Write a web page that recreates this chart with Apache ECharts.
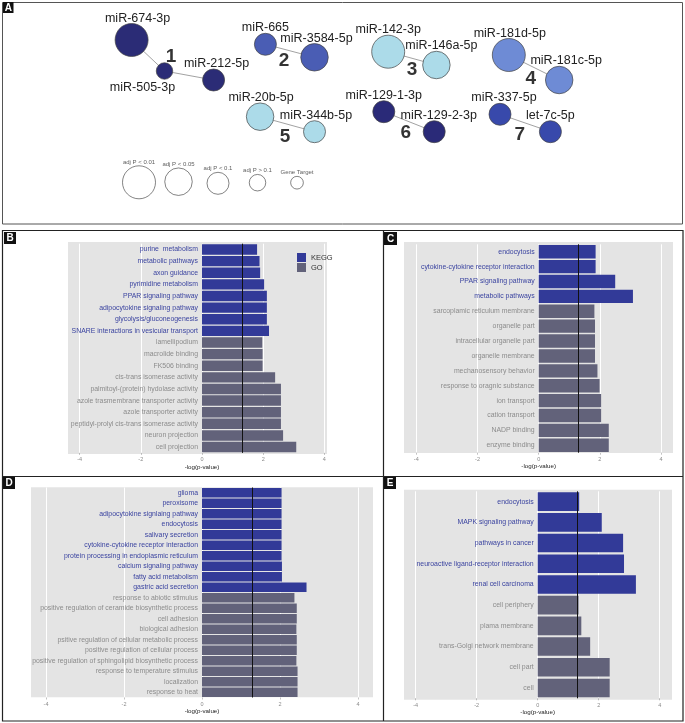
<!DOCTYPE html>
<html><head><meta charset="utf-8">
<script src="https://cdn.jsdelivr.net/npm/echarts@6/dist/echarts.min.js"></script>
<style>html,body{margin:0;padding:0;background:#fff}#c{width:685px;height:723px}</style>
</head><body><div id="c"></div>
<script>
// ---------- Panel A: network ----------
const nodeNames = ['miR-674-3p','miR-505-3p','miR-212-5p','miR-665','miR-3584-5p','miR-142-3p','miR-146a-5p','miR-181d-5p','miR-181c-5p','miR-20b-5p','miR-344b-5p','miR-129-1-3p','miR-129-2-3p','miR-337-5p','let-7c-5p'];
const nodeX = [131.6,164.5,213.6,265.4,314.5,388.2,436.4,508.8,559.2,260.1,314.5,383.8,434.2,500,550.4];
const nodeY = [40,71,80,44.3,57.3,51.7,65,55,80,116.7,131.7,111.7,131.7,114.3,131.7];
const nodeCluster = [1,1,1,2,2,3,3,4,4,5,5,6,6,7,7];
const nodeClass = [0,3,2,2,1,0,1,0,1,1,2,2,2,2,2];
const edges = [[0,1],[1,2],[3,4],[5,6],[7,8],[9,10],[11,12],[13,14]];
const clusterIds = [1,2,3,4,5,6,7];
const clusterX = [171,284,412,530.7,285,405.7,519.7];
const clusterY = [57,61,70,79,137,133,135];
const sigLabels = ['adj P < 0.01','adj P < 0.05','adj P < 0.1','adj P > 0.1','Gene Target'];
const sigX = [139,178.5,218,257.5,297];
const sigY = [182.3,181.7,183.3,182.7,182.7];

// ---------- Panels B-E: enrichment bars ----------
const bCats = ['purine  metabolism','metabolic pathways','axon guidance','pyrimidine metabolism','PPAR signaling pathway','adipocytokine signaling pathway','glycolysis/gluconeogenesis','SNARE interactions in vesicular transport','lamellipodium','macrolide binding','FK506 binding','cis-trans isomerase activity','palmitoyl-(protein) hydolase activity','azole trasmembrane transporter activity','azole transporter activity','peptidyl-prolyl cis-trans isomerase activity','neuron projection','cell projection'];
const bVals = [1.80,1.88,1.90,2.03,2.12,2.12,2.12,2.19,1.97,1.98,1.98,2.39,2.58,2.58,2.58,2.58,2.65,3.08];
const bTypes = ['K','K','K','K','K','K','K','K','G','G','G','G','G','G','G','G','G','G'];

const cCats = ['endocytosis','cytokine-cytokine receptor interaction','PPAR signaling pathway','metabolic pathways','sarcoplamic reticulum membrane','organelle part','intracellular organelle part','organelle membrane','mechanosensory behavior','response to oragnic substance','ion transport','cation transport','NADP binding','enzyme binding'];
const cVals = [1.86,1.86,2.50,3.08,1.82,1.84,1.84,1.84,1.92,1.99,2.04,2.04,2.29,2.29];
const cTypes = ['K','K','K','K','G','G','G','G','G','G','G','G','G','G'];

const dCats = ['glioma','peroxisome','adipocytokine signlaing pathway','endocytosis','salivary secretion','cytokine-cytokine receptor interaction','protein processing in endoplasmic reticulum','calcium signaling pathway','fatty acid metabolism','gastric acid secretion','response to abiotic stimulus','positive regulation of ceramide biosynthetic process','cell adhesion','biological adhesion','psitive regulation of cellular metabolic process','positive regulation of cellular process','positive regulation of sphingolipid biosynthetic process','response to temperature stimulus','localization','response to heat'];
const dVals = [2.04,2.04,2.04,2.04,2.04,2.04,2.04,2.05,2.05,2.68,2.37,2.43,2.43,2.42,2.43,2.43,2.42,2.45,2.45,2.45];
const dTypes = ['K','K','K','K','K','K','K','K','K','K','G','G','G','G','G','G','G','G','G','G'];

const eCats = ['endocytosis','MAPK signaling pathway','pathways in cancer','neuroactive ligand-receptor interaction','renal cell carcinoma','cell periphery','plama membrane','trans-Golgi network membrane','cell part','cell'];
const eVals = [1.36,2.10,2.80,2.83,3.22,1.34,1.43,1.72,2.36,2.36];
const eTypes = ['K','K','K','K','K','G','G','G','G','G'];

const threshold = 1.3;
const xTicksMin = -4, xTicksMax = 4, xTickStep = 2;
const xTitle = '-log(p-value)';

// ---------- styles / layout ----------
const KC = '#323a98', GC = '#62627a', KL = '#3b44a0', GL = '#8c8c8c', BG = '#e4e4e4';
const FONT = 'Liberation Sans, Arial, sans-serif';
const classSize = [33, 27.5, 22, 16.5, 12.7];
const clusterColor = {1:'#2b2c76',2:'#4a5db4',3:'#acdbe9',4:'#6e8bd5',5:'#acdbe9',6:'#2a2a78',7:'#3849ab'};

const panels = [
  {cats:bCats, vals:bVals, types:bTypes, grid:{left:79.6, top:243.7, width:244.8, height:209.2}, bg:[68,242,327,454], fs:6.9},
  {cats:cCats, vals:cVals, types:cTypes, grid:{left:416.3, top:244.3, width:244.8, height:208.4}, bg:[404,242,673,453], fs:6.9},
  {cats:dCats, vals:dVals, types:dTypes, grid:{left:46, top:487.5, width:312, height:210}, bg:[31,487.3,373,697.3], fs:6.9},
  {cats:eCats, vals:eVals, types:eTypes, grid:{left:415.7, top:491.3, width:244, height:207}, bg:[404,489.7,672,699.7], fs:6.9}
];

const grids = [], xAxes = [], yAxes = [], series = [], graphics = [];
panels.forEach((p, i) => {
  grids.push(Object.assign({outerBoundsMode:'none', containLabel:false}, p.grid));
  xAxes.push({
    gridIndex:i, type:'value', min:xTicksMin, max:xTicksMax, interval:xTickStep,
    axisLine:{show:false, onZero:false},
    axisTick:{show:true, length:2, lineStyle:{color:'#999', width:0.6}},
    axisLabel:{fontSize:5.5, color:'#8a8a8a', margin:4},
    splitLine:{show:true, lineStyle:{color:'#ffffff', width:1}},
    name:xTitle, nameLocation:'middle', nameGap:9,
    nameTextStyle:{fontSize:6.2, color:'#222'}
  });
  const typeOf = {};
  p.cats.forEach((c, j) => typeOf[c] = p.types[j]);
  // place the category axis at x = 0 of the value axis (zero is at the centre of -4..4)
  const zeroShift = p.grid.width * (0 - xTicksMin) / (xTicksMax - xTicksMin);
  yAxes.push({
    gridIndex:i, type:'category', data:p.cats, inverse:true, offset:-zeroShift,
    axisLine:{show:false, onZero:false}, axisTick:{show:false}, splitLine:{show:false},
    axisLabel:{interval:0, margin:4, fontSize:p.fs,
      formatter:(v) => (typeOf[v] === 'K' ? '{k|' : '{g|') + v + '}',
      rich:{k:{color:KL, fontSize:p.fs, fontFamily:FONT}, g:{color:GL, fontSize:p.fs, fontFamily:FONT}}}
  });
  series.push({
    type:'bar', name:'KEGG', xAxisIndex:i, yAxisIndex:i, barGap:'-100%', barCategoryGap:'10%', z:3,
    data:p.vals.map((v, j) => p.types[j] === 'K' ? v : '-'),
    itemStyle:{color:KC}, emphasis:{disabled:true}, silent:true,
    markLine:{silent:true, symbol:'none', label:{show:false}, animation:false,
      lineStyle:{color:'#111', width:1, type:'solid'}, data:[{xAxis:threshold}]}
  });
  series.push({
    type:'bar', name:'GO', xAxisIndex:i, yAxisIndex:i, barGap:'-100%', barCategoryGap:'10%', z:3,
    data:p.vals.map((v, j) => p.types[j] === 'G' ? v : '-'),
    itemStyle:{color:GC}, emphasis:{disabled:true}, silent:true
  });
  const [x0, y0, x1, y1] = p.bg;
  graphics.push({type:'rect', z:-1, silent:true, shape:{x:x0, y:y0, width:x1 - x0, height:y1 - y0}, style:{fill:BG}});
});

// Panel A coordinate system
grids.push({left:0, top:0, width:685, height:723, outerBoundsMode:'none', containLabel:false});
xAxes.push({gridIndex:4, type:'value', min:0, max:685, show:false});
yAxes.push({gridIndex:4, type:'value', min:0, max:723, inverse:true, show:false});

const labelOffset = {0:[6,0], 1:[-22,0], 2:[3,0], 4:[2,0], 6:[5,0], 7:[1,0], 8:[7,0], 9:[1,0], 10:[1.5,0], 12:[4.5,0], 13:[4,0]};
series.push({
  type:'graph', coordinateSystem:'cartesian2d', xAxisIndex:4, yAxisIndex:4, layout:'none', silent:true,
  symbol:'circle', z:4,
  data:nodeNames.map((n, k) => ({
    name:n, value:[nodeX[k], nodeY[k]], symbolSize:classSize[nodeClass[k]],
    itemStyle:{color:clusterColor[nodeCluster[k]], borderColor:'#444', borderWidth:0.7},
    label:{show:true, position:k === 1 ? 'bottom' : 'top', distance:k === 1 ? 1 : -1.5,
      offset:labelOffset[k] || [0,0], fontSize:12.5, color:'#222', fontFamily:FONT}
  })),
  links:edges.map(e => ({source:e[0], target:e[1]})),
  lineStyle:{color:'#8a8a8a', width:0.8, opacity:1, curveness:0},
  emphasis:{disabled:true}
});
series.push({
  type:'scatter', xAxisIndex:4, yAxisIndex:4, silent:true, symbolSize:0, z:5,
  data:clusterIds.map((c, k) => [clusterX[k], clusterY[k], c]),
  label:{show:true, position:'inside', formatter:(d) => String(d.value[2]),
    fontSize:19, fontWeight:'bold', color:'#000', fontFamily:FONT}
});
series.push({
  type:'scatter', xAxisIndex:4, yAxisIndex:4, silent:true, z:4,
  data:sigLabels.map((s, k) => [sigX[k], sigY[k], k]),
  symbolSize:(v) => classSize[v[2]],
  itemStyle:{color:'#fff', borderColor:'#222', borderWidth:0.7},
  label:{show:true, position:'top', distance:0.5, formatter:(d) => sigLabels[d.value[2]],
    fontSize:6, color:'#333', fontFamily:FONT}
});

// Frames and panel letters
graphics.push({type:'rect', z:10, silent:true, shape:{x:2.5, y:2.5, width:680, height:221.5}, style:{fill:'none', stroke:'#555', lineWidth:1}});
graphics.push({type:'rect', z:10, silent:true, shape:{x:2.5, y:230.5, width:680.5, height:490.5}, style:{fill:'none', stroke:'#222', lineWidth:1.2}});
graphics.push({type:'line', z:10, silent:true, shape:{x1:383.5, y1:230.5, x2:383.5, y2:721}, style:{stroke:'#222', lineWidth:1.2}});
graphics.push({type:'line', z:10, silent:true, shape:{x1:2.5, y1:476.5, x2:683, y2:476.5}, style:{stroke:'#222', lineWidth:1.2}});
[['A',3,2,10.5,11],['B',4,232,12,12],['C',384,232,13,13],['D',3,477,12,12],['E',384,477,12,12]].forEach(([t,x,y,w,h]) => {
  graphics.push({type:'rect', z:11, silent:true, shape:{x:x, y:y, width:w, height:h}, style:{fill:'#111'}});
  graphics.push({type:'text', z:12, silent:true, x:x + w / 2, y:y + h / 2 + 0.5,
    style:{text:t, fill:'#fff', font:'bold 10px ' + FONT, align:'center', verticalAlign:'middle'}});
});

const chart = echarts.init(document.getElementById('c'), null, {renderer:'canvas'});
chart.setOption({
  animation:false,
  backgroundColor:'#ffffff',
  textStyle:{fontFamily:FONT},
  grid:grids, xAxis:xAxes, yAxis:yAxes, series:series,
  legend:{data:['KEGG','GO'], orient:'vertical', left:297, top:253, itemWidth:9, itemHeight:9, itemGap:1,
    icon:'rect', padding:0, selectedMode:false, textStyle:{fontSize:7.5, color:'#333', fontFamily:FONT}},
  graphic:{elements:graphics}
});
</script></body></html>
